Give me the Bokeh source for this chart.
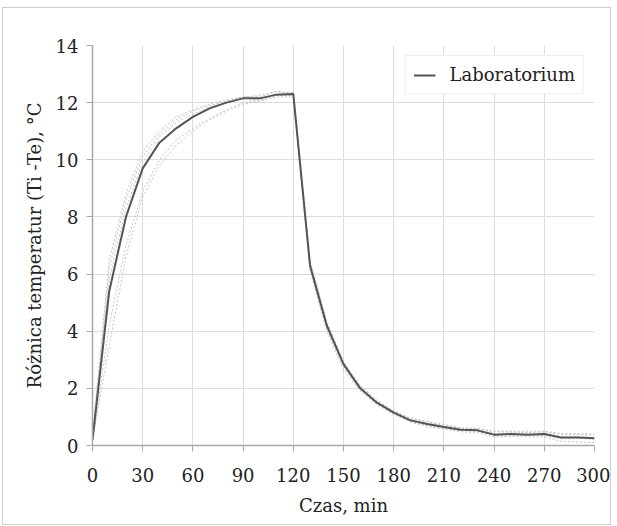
from bokeh.plotting import figure
from bokeh.embed import file_html
from bokeh.resources import INLINE
from bokeh.models import Range1d, FixedTicker, Legend, LegendItem

czas = [0, 10, 20, 30, 40, 50, 60, 70, 80, 90, 100, 110, 120, 130, 140, 150,
        160, 170, 180, 190, 200, 210, 220, 230, 240, 250, 260, 270, 280, 290, 300]
laboratorium = [0.2, 5.4, 8.0, 9.7, 10.6, 11.1, 11.5, 11.8, 12.0, 12.15, 12.15, 12.28, 12.3,
                6.3, 4.2, 2.85, 2.0, 1.5, 1.15, 0.88, 0.75, 0.65, 0.55, 0.53, 0.38, 0.4,
                0.38, 0.4, 0.28, 0.28, 0.25]
pomiar_1 = [0.3, 6.2, 8.6, 10.1, 10.9, 11.4, 11.7, 11.9, 12.05, 12.2, 12.2, 12.38, 12.35,
            6.5, 4.35, 2.95, 2.05, 1.55, 1.2, 0.92, 0.82, 0.7, 0.6, 0.58, 0.48, 0.48,
            0.45, 0.48, 0.38, 0.38, 0.36]
pomiar_2 = [0.25, 5.8, 8.3, 9.9, 10.8, 11.3, 11.6, 11.85, 12.0, 12.15, 12.1, 12.3, 12.3,
            6.2, 4.1, 2.75, 1.95, 1.45, 1.12, 0.85, 0.7, 0.6, 0.52, 0.5, 0.35, 0.38,
            0.35, 0.35, 0.25, 0.25, 0.22]
pomiar_3 = [0.15, 4.2, 7.0, 8.9, 10.0, 10.7, 11.1, 11.45, 11.75, 12.0, 12.1, 12.25, 12.25,
            6.1, 4.0, 2.65, 1.9, 1.42, 1.08, 0.82, 0.66, 0.57, 0.48, 0.45, 0.3, 0.32,
            0.3, 0.3, 0.15, 0.12, 0.1]
pomiar_4 = [0.2, 3.5, 6.6, 8.7, 9.8, 10.5, 11.0, 11.4, 11.7, 11.95, 12.05, 12.2, 12.2,
            6.4, 4.25, 2.8, 2.0, 1.5, 1.18, 0.9, 0.78, 0.68, 0.58, 0.55, 0.42, 0.44,
            0.42, 0.44, 0.3, 0.3, 0.28]
pomiar_5 = [0.35, 6.5, 8.8, 10.3, 11.0, 11.5, 11.75, 11.95, 12.1, 12.2, 12.25, 12.4, 12.3,
            6.3, 4.3, 2.9, 2.1, 1.58, 1.22, 0.95, 0.85, 0.74, 0.62, 0.6, 0.5, 0.5,
            0.5, 0.5, 0.42, 0.42, 0.4]
x_ticks = [0, 30, 60, 90, 120, 150, 180, 210, 240, 270, 300]
y_ticks = [0, 2, 4, 6, 8, 10, 12, 14]

FONT = "DejaVu Serif"

p = figure(width=609, height=518, output_backend="svg", toolbar_location=None,
           x_range=Range1d(0, 300), y_range=Range1d(0, 14),
           min_border_left=89, min_border_right=18, min_border_top=37, min_border_bottom=81,
           styles={"border": "1px solid #cfcfcf", "margin-top": "7px", "margin-left": "2px"})
p.outline_line_color = None
p.background_fill_color = "white"
p.border_fill_color = "white"

for s in [pomiar_1, pomiar_2, pomiar_3, pomiar_4, pomiar_5]:
    p.line(czas, s, line_color="#c4c4c4", line_width=1, line_dash="2 2")

main = p.line(czas, laboratorium, line_color="#555555", line_width=2)

legend = Legend(items=[LegendItem(label="Laboratorium", renderers=[main])],
                location="top_right")
legend.label_text_font = FONT
legend.label_text_font_size = "18px"
legend.label_text_color = "#222222"
legend.border_line_color = "#dddddd"
legend.border_line_width = 1
legend.margin = 10
legend.padding = 8
legend.glyph_width = 22
legend.label_standoff = 14
legend.spacing = 0
p.add_layout(legend)

p.xaxis.ticker = FixedTicker(ticks=x_ticks)
p.yaxis.ticker = FixedTicker(ticks=y_ticks)
p.xgrid.ticker = FixedTicker(ticks=x_ticks)
p.ygrid.ticker = FixedTicker(ticks=y_ticks)
p.grid.grid_line_color = "#dcdcdc"
p.grid.grid_line_width = 1

for ax in [p.xaxis[0], p.yaxis[0]]:
    ax.axis_line_color = "#a8a8a8"
    ax.axis_line_width = 1.5
    ax.major_tick_line_color = "#a8a8a8"
    ax.major_tick_in = 0
    ax.major_tick_out = 6
    ax.minor_tick_line_color = None
    ax.major_label_text_font = FONT
    ax.major_label_text_font_size = "18px"
    ax.major_label_text_color = "#222222"
    ax.axis_label_text_font = FONT
    ax.axis_label_text_font_size = "18px"
    ax.axis_label_text_font_style = "normal"
    ax.axis_label_text_color = "#222222"

p.xaxis.axis_label = "Czas, min"
p.yaxis.axis_label = "Różnica temperatur (Ti -Te), °C"
p.xaxis.major_label_standoff = 16
p.xaxis.axis_label_standoff = 10
p.yaxis.major_label_standoff = 8
p.yaxis.axis_label_standoff = 8

open("out.html", "w").write(file_html(p, INLINE))
